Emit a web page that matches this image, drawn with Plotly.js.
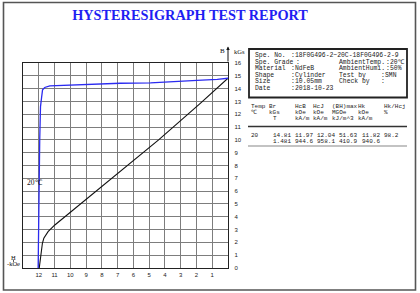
<!DOCTYPE html>
<html>
<head>
<meta charset="utf-8">
<script src="https://cdn.plot.ly/plotly-3.0.1.min.js"></script>
<style>
  html, body { margin: 0; padding: 0; background: #fff; }
  #chart { width: 420px; height: 293px; }
</style>
</head>
<body>
<div id="chart"></div>
<script>
// Demagnetization curves (H in kOe, negative side; B / J in kGs)
const hJ = [0, -0.68, -1.96, -3.55, -4.92, -6.84, -8.11, -10.24, -11.3, -11.62, -11.76, -11.82, -11.89, -11.94, -11.98, -12.0, -12.04];
const bJ = [14.81, 14.72, 14.65, 14.57, 14.45, 14.42, 14.36, 14.3, 14.22, 14.09, 13.9, 13.33, 12.6, 10.0, 6.6, 2.2, 0];
const hB = [0, -1.74, -4.4, -6.84, -9.03, -10.03, -10.98, -11.41, -11.68, -11.77, -11.83, -11.87, -11.97];
const bB = [14.81, 12.87, 10.0, 7.52, 5.31, 4.27, 3.36, 2.84, 2.32, 1.93, 1.41, 0.88, 0];
const curveLabel = '20℃';

// Axis ticks
const hTickVals = [-12, -11, -10, -9, -8, -7, -6, -5, -4, -3, -2, -1];
const hTickText = ['12', '11', '10', '9', '8', '7', '6', '5', '4', '3', '2', '1'];
const bTickVals = [0, 1, 2, 3, 4, 5, 6, 7, 8, 9, 10, 11, 12, 13, 14, 15, 16];

// Sample information block
const infoLeftLabels = ['Spe. No.', 'Spe. Grade', 'Material', 'Shape', 'Size', 'Date'];
const infoLeftValues = ['18F0G496-2~20C-18F0G496-2-9', '', 'NdFeB', 'Cylinder', '10.05mm', '2018-10-23'];
const infoRightLabels = ['', 'AmbientTemp.', 'AmbientHumi.', 'Test by', 'Check by', ''];
const infoRightValues = ['', '20℃', '50%', 'SMN', '', ''];

// Result table
const tableHeader = ['Temp', 'Br', 'HcB', 'HcJ', '(BH)max', 'Hk', 'Hk/Hcj'];
const tableUnitsA = ['℃', 'kGs', 'kOe', 'kOe', 'MGOe', 'kOe', '%'];
const tableUnitsB = ['', 'T', 'kA/m', 'kA/m', 'kJ/m^3', 'kA/m', ''];
const rowTemp = ['20'];
const rowGauss = ['14.81', '11.97', '12.04', '51.63', '11.82', '98.2'];
const rowSI = ['1.481', '944.6', '958.1', '410.9', '940.6'];

// ---- page geometry (pixels) ----
const W = 420, H = 293;
const PL = 23, PR = 228, PT = 63, PB = 268;
const px = x => (x - PL) / (PR - PL);
const py = y => (PB - y) / (PB - PT);

const mono = 'Liberation Mono, DejaVu Sans Mono, monospace';
const annotations = [];
function txt(x, y, s, o = {}) {
  annotations.push({
    xref: 'paper', yref: 'paper', x: px(x), y: py(y), text: s, showarrow: false,
    xanchor: o.xanchor || 'left', yanchor: 'middle', borderpad: 0,
    font: { family: o.family || mono, size: o.size || 6, color: o.color || '#222' }
  });
}

// info block text
const boxFont = { size: 6.4 };
const infoY = [55.7, 62.4, 68.9, 75.3, 81.6, 88.0];
infoLeftLabels.forEach((s, i) => {
  txt(254, infoY[i], s, boxFont);
  txt(i === 1 ? 294.5 : 289.5, infoY[i], ':', boxFont);
  if (infoLeftValues[i]) txt(294, infoY[i], infoLeftValues[i], boxFont);
  if (infoRightLabels[i]) {
    const colon = i >= 3 ? 379.5 : 384.5;
    txt(338, infoY[i], infoRightLabels[i], boxFont);
    txt(colon, infoY[i], ':', boxFont);
    if (infoRightValues[i]) txt(colon + 4.8, infoY[i], infoRightValues[i], boxFont);
  }
});

// table text, laid out on a fixed character grid
const col = c => 249.5 + c * 3.7;
const headCols = [0, 5, 12, 17, 22, 29, 36];
const unitBCols = [0, 6, 12, 17, 22, 29, 36];
tableHeader.forEach((s, i) => txt(col(headCols[i]), 106.3, s));
tableUnitsA.forEach((s, i) => txt(col(headCols[i]), 112.6, s));
tableUnitsB.forEach((s, i) => { if (s) txt(col(unitBCols[i]), 118.9, s); });
const valCols = [6, 12, 18, 24, 30, 36];
txt(col(0), 135.3, rowTemp[0]);
rowGauss.forEach((s, i) => txt(col(valCols[i]), 135.3, s));
rowSI.forEach((s, i) => txt(col(valCols[i]), 141.2, s));

// axis captions
const serif = 'Liberation Serif, Times New Roman, serif';
txt(222.5, 51.5, 'B', { family: serif, size: 7, xanchor: 'center', color: '#111' });
txt(232.5, 51.5, 'kGs', { family: serif, size: 6.5, color: '#111' });
txt(13.5, 257.5, 'H', { family: serif, size: 6.5, xanchor: 'center', color: '#111' });
txt(5.5, 263.8, '-kOe', { family: serif, size: 6.5, color: '#111' });
txt(26, 182.7, curveLabel, { family: serif, size: 7.5, color: '#111' });

// B axis arrow (pointing up above the plot)
annotations.push({ xref: 'paper', yref: 'paper', x: px(PR), y: py(46.5), ax: 0, ay: 16.5,
  showarrow: true, arrowhead: 2, arrowsize: 0.7, arrowwidth: 1, arrowcolor: '#111', text: '' });

const shapes = [
  // outer frame
  { type: 'rect', xref: 'paper', yref: 'paper', x0: px(3.5), x1: px(415.5), y0: py(290), y1: py(2.5),
    line: { color: '#555', width: 1.6 } },
  // info box
  { type: 'rect', xref: 'paper', yref: 'paper', x0: px(249), x1: px(407), y0: py(97.5), y1: py(49),
    line: { color: '#222', width: 1.8 } },
  // table rules
  { type: 'line', xref: 'paper', yref: 'paper', x0: px(248), x1: px(407), y0: py(126.5), y1: py(126.5),
    line: { color: '#333', width: 1.3 } },
  { type: 'line', xref: 'paper', yref: 'paper', x0: px(248), x1: px(407), y0: py(146), y1: py(146),
    line: { color: '#888', width: 1.1 } },
  // small pointer under the H caption
  { type: 'line', xref: 'paper', yref: 'paper', x0: px(13.5), x1: px(13.5), y0: py(262), y1: py(259.5),
    line: { color: '#333', width: 0.8 } }
];

const data = [
  { x: hB, y: bB, type: 'scatter', mode: 'lines', line: { color: '#111', width: 1.1 }, hoverinfo: 'skip' },
  { x: hJ, y: bJ, type: 'scatter', mode: 'lines', line: { color: '#2b2bf0', width: 1.3 }, hoverinfo: 'skip' }
];

const layout = {
  width: W, height: H,
  margin: { l: PL, r: W - PR, t: PT, b: H - PB, pad: 0 },
  paper_bgcolor: '#fff', plot_bgcolor: '#fff',
  showlegend: false,
  title: {
    text: 'HYSTERESIGRAPH TEST REPORT',
    x: 190 / W, xref: 'container', xanchor: 'center',
    y: 1 - 14.5 / H, yref: 'container', yanchor: 'middle',
    font: { family: serif, size: 14.3, color: '#1f1ff2', weight: 'bold' }
  },
  xaxis: {
    range: [-13, 0], fixedrange: true,
    tickvals: hTickVals, ticktext: hTickText,
    tickfont: { family: 'Liberation Sans, Arial, sans-serif', size: 6, color: '#222' },
    ticks: '',
    showgrid: true, gridcolor: '#7d7d7d', gridwidth: 1,
    zeroline: false, showline: true, linecolor: '#222', linewidth: 1.3, mirror: true
  },
  yaxis: {
    range: [0, 16], fixedrange: true, side: 'right',
    tickvals: bTickVals,
    tickfont: { family: 'Liberation Sans, Arial, sans-serif', size: 6, color: '#222' },
    ticks: 'outside', ticklen: 4, tickcolor: 'rgba(0,0,0,0)',
    showgrid: true, gridcolor: '#7d7d7d', gridwidth: 1,
    zeroline: false, showline: true, linecolor: '#222', linewidth: 1.3, mirror: true
  },
  shapes: shapes,
  annotations: annotations
};

Plotly.newPlot('chart', data, layout, { displayModeBar: false, staticPlot: true });
</script>
</body>
</html>
